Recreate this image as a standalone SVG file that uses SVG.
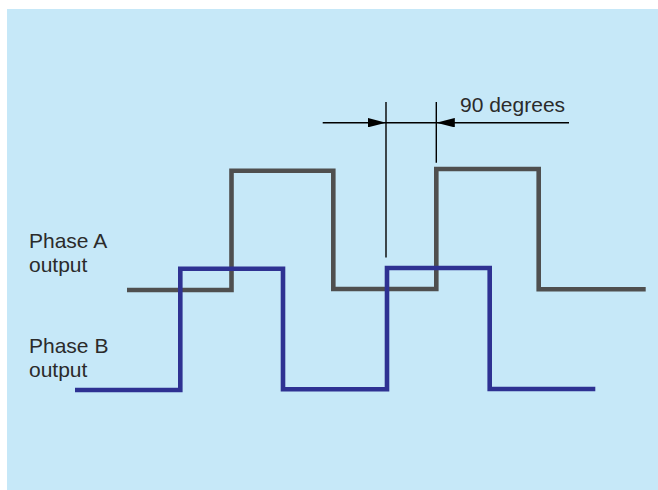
<svg xmlns="http://www.w3.org/2000/svg" width="658" height="490" viewBox="0 0 658 490">
<style>
.lbl{font-family:"Liberation Sans",Arial,sans-serif;font-size:21px;fill:#2b2b2b}
.wave{fill:none;stroke-width:4.6;stroke-linejoin:miter;stroke-linecap:butt}
.dim{fill:none;stroke:#000;stroke-width:1.4}
</style>
<defs>
<marker id="ah" viewBox="0 0 10 10" refX="10" refY="5" markerWidth="18.5" markerHeight="9.5" markerUnits="userSpaceOnUse" orient="auto" preserveAspectRatio="none">
<path d="M0,0 L10,5 L0,10 Z" fill="#000"/>
</marker>
</defs>
<rect x="0" y="0" width="658" height="490" fill="#ffffff"/>
<rect x="7" y="9" width="651" height="481" fill="#c6e8f8"/>
<g id="labels">
<g id="phaseA"><text class="lbl" x="29" y="248">Phase A</text><text class="lbl" x="29" y="272">output</text></g>
<g id="phaseB"><text class="lbl" x="29" y="353">Phase B</text><text class="lbl" x="29" y="377">output</text></g>
<g id="deg"><text class="lbl" x="460" y="111.5">90 degrees</text></g>
</g>
<g id="waveA"><polyline class="wave" stroke="#4f4f4f" points="127,290 231.5,290 231.5,170.7 333.3,170.7 333.3,289 436.3,289 436.3,169 538.7,169 538.7,289.3 645.7,289.3"/></g>
<g id="waveB"><polyline class="wave" stroke="#2e3192" points="75,390 180.3,390 180.3,268.7 283,268.7 283,389.3 387,389.3 387,268 489.7,268 489.7,389 595.3,389"/></g>
<g id="connectors">
<line class="dim" x1="386" y1="102" x2="386" y2="257.5"/>
<line class="dim" x1="436.3" y1="102" x2="436.3" y2="162.7"/>
<line class="dim" x1="322.7" y1="122.7" x2="386" y2="122.7" marker-end="url(#ah)"/>
<line class="dim" x1="386" y1="122.7" x2="436.3" y2="122.7"/>
<line class="dim" x1="569" y1="122.7" x2="436.3" y2="122.7" marker-end="url(#ah)"/>
</g>
</svg>
